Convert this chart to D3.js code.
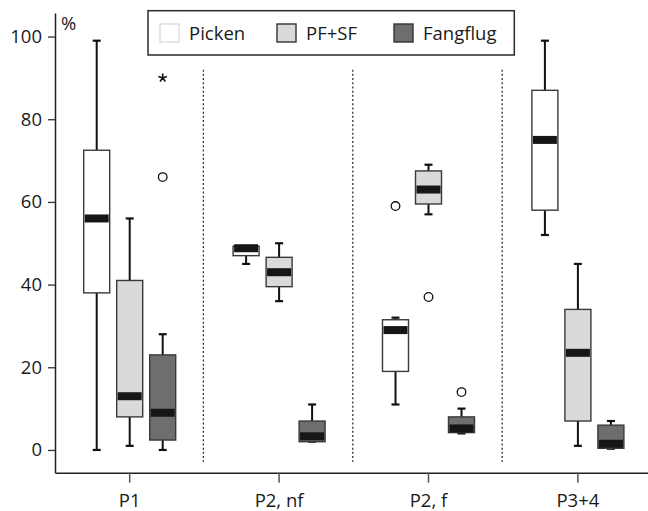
<!DOCTYPE html>
<html>
<head>
<meta charset="utf-8">
<script src="https://cdn.jsdelivr.net/npm/d3@7"></script>
<style>
  body { margin: 0; background: #fff; }
  svg { display: block; }
  text { font-family: "Open Sans", "Noto Sans", sans-serif; fill: #1a1a1a; }
</style>
</head>
<body>
<svg id="chart" width="648" height="511"></svg>
<script>
// ---------- data ----------
const categories = ["P1", "P2, nf", "P2, f", "P3+4"];
const seriesNames = ["Picken", "PF+SF", "Fangflug"];
const seriesColors = ["#ffffff", "#d9dadc", "#6e6e6e"];
const yTicks = [0, 20, 40, 60, 80, 100];
// [whiskerLow, q1, median, q3, whiskerHigh] per category
const pickenStats = [
  [0, 38, 56, 72.5, 99],
  [45, 47, 48.8, 49.3, 49.3],
  [11, 19, 29, 31.5, 32],
  [52, 58, 75, 87, 99]
];
const pfsfStats = [
  [1, 8, 13, 41, 56],
  [36, 39.5, 43, 46.6, 50],
  [57, 59.5, 63, 67.5, 69],
  [1, 7, 23.5, 34, 45]
];
const fangflugStats = [
  [0, 2.4, 9, 23, 28],
  [2, 2, 3.3, 7, 11],
  [4, 4.2, 5.2, 8, 10],
  [0.3, 0.4, 1.5, 6, 7]
];
// outliers: [category, series, value, kind]
const outliers = [
  ["P1", "Fangflug", 66, "circle"],
  ["P1", "Fangflug", 90, "star"],
  ["P2, f", "Picken", 59, "circle"],
  ["P2, f", "PF+SF", 37, "circle"],
  ["P2, f", "Fangflug", 14, "circle"]
];

// ---------- layout ----------
const svg = d3.select("#chart");
const axisX0 = 55, axisY = 472.7;
const y = d3.scaleLinear().domain([-5.5, 105.7]).range([axisY, 13]);
const x = d3.scaleBand().domain(categories).range([axisX0, 652.6]).padding(0);
const sub = d3.scaleBand().domain(seriesNames).range([-49.5, 49.5]).padding(0);
const boxW = 26, capW = 8;
const fontSize = 18.5;

const statsBySeries = [pickenStats, pfsfStats, fangflugStats];
const boxes = [];
seriesNames.forEach((s, si) => {
  categories.forEach((c, ci) => {
    const st = statsBySeries[si][ci];
    boxes.push({cat: c, series: s, color: seriesColors[si],
      lo: st[0], q1: st[1], med: st[2], q3: st[3], hi: st[4]});
  });
});
const cx = d => x(d.cat) + x.bandwidth() / 2 + sub(d.series) + sub.bandwidth() / 2;

// separators (dotted)
svg.append("g").selectAll("line")
  .data(categories.slice(1))
  .join("line")
  .attr("x1", d => x(d) - 1).attr("x2", d => x(d) - 1)
  .attr("y1", y(92)).attr("y2", y(-2.9))
  .attr("stroke", "#333").attr("stroke-width", 1.3)
  .attr("stroke-dasharray", "2,2.2");

// y axis
const yAxis = svg.append("g")
  .attr("transform", `translate(${axisX0},0)`)
  .call(d3.axisLeft(y).tickValues(yTicks).tickSize(7).tickSizeOuter(0).tickPadding(6));
yAxis.select(".domain").attr("stroke", "#222").attr("stroke-width", 1.5);
yAxis.selectAll(".tick line").attr("stroke", "#333").attr("stroke-width", 1.3);
yAxis.selectAll("text").style("font-size", fontSize + "px")
  .style("font-family", '"Open Sans", sans-serif').attr("fill", "#1a1a1a");

// x axis
const xAxis = svg.append("g")
  .attr("transform", `translate(0,${axisY})`)
  .call(d3.axisBottom(x).tickSize(10).tickSizeOuter(0).tickPadding(11));
xAxis.select(".domain").attr("stroke", "#222").attr("stroke-width", 1.5);
xAxis.selectAll(".tick line").attr("stroke", "#555").attr("stroke-width", 1.5);
xAxis.selectAll("text").style("font-size", fontSize + "px")
  .style("font-family", '"Open Sans", sans-serif').attr("fill", "#1a1a1a");

// % label
svg.append("text").attr("x", 61).attr("y", 30)
  .style("font-size", fontSize + "px").text("%");

// boxes
const g = svg.append("g");
const bg = g.selectAll("g.box").data(boxes).join("g").attr("class", "box");
// whiskers
bg.append("line")
  .attr("x1", cx).attr("x2", cx)
  .attr("y1", d => y(d.hi)).attr("y2", d => y(d.q3))
  .attr("stroke", "#111").attr("stroke-width", 2);
bg.append("line")
  .attr("x1", cx).attr("x2", cx)
  .attr("y1", d => y(d.q1)).attr("y2", d => y(d.lo))
  .attr("stroke", "#111").attr("stroke-width", 2);
bg.append("line")
  .attr("x1", d => cx(d) - capW / 2).attr("x2", d => cx(d) + capW / 2)
  .attr("y1", d => y(d.hi)).attr("y2", d => y(d.hi))
  .attr("stroke", "#111").attr("stroke-width", 2.2);
bg.append("line")
  .attr("x1", d => cx(d) - capW / 2).attr("x2", d => cx(d) + capW / 2)
  .attr("y1", d => y(d.lo)).attr("y2", d => y(d.lo))
  .attr("stroke", "#111").attr("stroke-width", 2.2);
// box
bg.append("rect")
  .attr("x", d => cx(d) - boxW / 2).attr("width", boxW)
  .attr("y", d => y(d.q3)).attr("height", d => Math.max(0.5, y(d.q1) - y(d.q3)))
  .attr("fill", d => d.color).attr("stroke", "#3a3a3a").attr("stroke-width", 1.4);
// median band
bg.append("rect")
  .attr("x", d => cx(d) - boxW / 2 + 1).attr("width", boxW - 2)
  .attr("y", d => y(d.med) - 4).attr("height", 8)
  .attr("fill", "#161616");

// outliers
const op = d => x(d[0]) + x.bandwidth() / 2 + sub(d[1]) + sub.bandwidth() / 2;
svg.append("g").selectAll("circle")
  .data(outliers.filter(d => d[3] === "circle"))
  .join("circle")
  .attr("cx", op).attr("cy", d => y(d[2])).attr("r", 4.3)
  .attr("fill", "#fff").attr("stroke", "#111").attr("stroke-width", 1.3);
// five-armed asterisk symbol
const star5 = {
  draw(ctx, size) {
    const r = Math.sqrt(size) / 2;
    for (let k = 0; k < 5; k++) {
      const a = -Math.PI / 2 + k * 2 * Math.PI / 5;
      ctx.moveTo(0, 0);
      ctx.lineTo(r * Math.cos(a), r * Math.sin(a));
    }
  }
};
svg.append("g").selectAll("path")
  .data(outliers.filter(d => d[3] === "star"))
  .join("path")
  .attr("transform", d => `translate(${op(d)},${y(d[2])})`)
  .attr("d", d3.symbol(star5, 81))
  .attr("fill", "none").attr("stroke", "#111").attr("stroke-width", 1.6);

// legend
const leg = svg.append("g");
leg.append("rect").attr("x", 148).attr("y", 10.7).attr("width", 366.3).attr("height", 44.3)
  .attr("fill", "#fff").attr("stroke", "#2a2a2a").attr("stroke-width", 1.5);
const legX = [160, 277, 394];
const li = leg.selectAll("g.li").data(seriesNames).join("g").attr("class", "li")
  .attr("transform", (d, i) => `translate(${legX[i]},24)`);
li.append("rect").attr("width", 19).attr("height", 18)
  .attr("fill", (d, i) => seriesColors[i])
  .attr("stroke", (d, i) => i === 0 ? "#cfcfcf" : "#333")
  .attr("stroke-width", (d, i) => i === 0 ? 1 : 1.4);
li.append("text").attr("x", 29).attr("y", 15.5)
  .style("font-size", fontSize + "px").text(d => d);
</script>
</body>
</html>
